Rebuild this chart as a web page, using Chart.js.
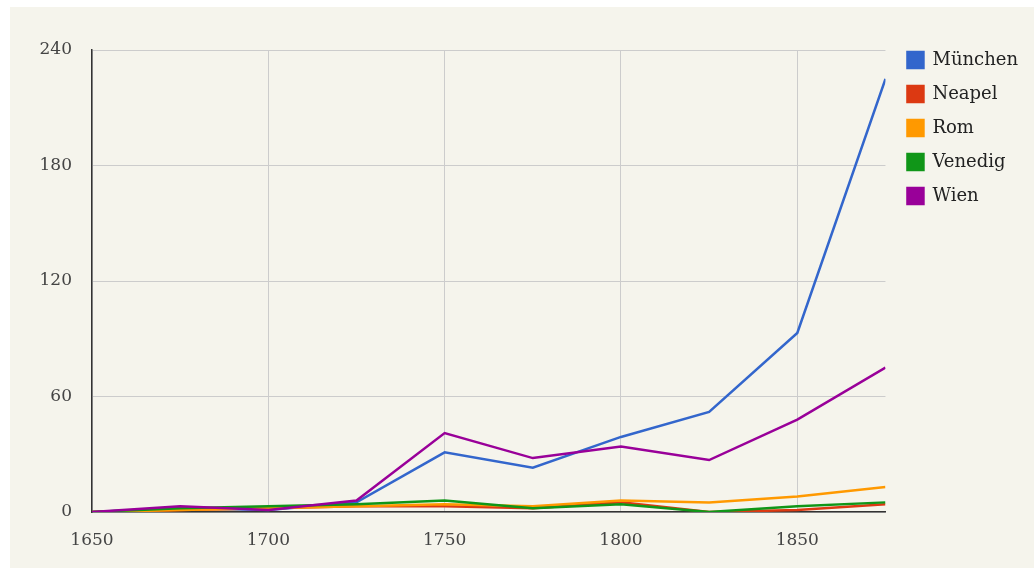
<!DOCTYPE html>
<html lang="de">
<head>
  <meta charset="UTF-8" />
  <title>Städte</title>
  <script src="https://cdn.jsdelivr.net/npm/chart.js"></script>
  <style>
    body {
      margin: 0;
      background-color: #ffffff;
    }
    .card {
      position: absolute;
      left: 10px;
      top: 7px;
      width: 1024px;
      height: 561px;
      background-color: #f5f4ec;
    }
  </style>
</head>
<body>
  <div class="card">
    <canvas id="staedteChart"></canvas>
  </div>

  <script>
    const jahre = [1650, 1675, 1700, 1725, 1750, 1775, 1800, 1825, 1850, 1875];
    const muenchen = [0, 2, 1, 5, 31, 23, 39, 52, 93, 225];
    const neapel = [0, 1, 2, 3, 3, 2, 5, 0, 1, 4];
    const rom = [0, 1, 2, 3, 4, 3, 6, 5, 8, 13];
    const venedig = [0, 2, 3, 4, 6, 2, 4, 0, 3, 5];
    const wien = [0, 3, 1, 6, 41, 28, 34, 27, 48, 75];
    const xTicks = [1650, 1700, 1750, 1800, 1850];
    const yTicks = [0, 60, 120, 180, 240];

    function punkte(werte) {
      return werte.map((v, i) => ({ x: jahre[i], y: v }));
    }

    function serie(label, werte, farbe, order) {
      return {
        label,
        data: punkte(werte),
        borderColor: farbe,
        backgroundColor: farbe,
        borderWidth: 2.5,
        pointRadius: 0,
        tension: 0,
        order
      };
    }

    const schrift = "'DejaVu Serif', Georgia, serif";

    // Legende ein Stueck vom Diagramm abruecken
    const legendeVersatz = {
      id: 'legendeVersatz',
      afterLayout(chart) {
        chart.legend.left += 6;
        chart.legend.right += 6;
      }
    };

    new Chart(document.getElementById("staedteChart"), {
      type: 'line',
      data: {
        datasets: [
          serie('München', muenchen, '#3366cc', 5),
          serie('Neapel', neapel, '#dc3912', 4),
          serie('Rom', rom, '#ff9900', 3),
          serie('Venedig', venedig, '#109618', 2),
          serie('Wien', wien, '#990099', 1)
        ]
      },
      options: {
        responsive: true,
        maintainAspectRatio: false,
        animation: false,
        layout: {
          padding: { left: 0, top: 28, right: 12, bottom: 0 }
        },
        scales: {
          x: {
            type: 'linear',
            min: 1650,
            max: 1875,
            afterBuildTicks: scale => { scale.ticks = xTicks.map(v => ({ value: v })); },
            afterFit: scale => { scale.height = 56; },
            grid: { color: '#cccccc', drawTicks: false },
            border: { color: '#333333', width: 1.5 },
            ticks: {
              padding: 18,
              color: '#444444',
              font: { family: schrift, size: 17 },
              callback: v => String(v)
            }
          },
          y: {
            min: 0,
            max: 240,
            afterBuildTicks: scale => { scale.ticks = yTicks.map(v => ({ value: v })); },
            afterFit: scale => { scale.width = 82; scale.paddingTop = 43; },
            grid: { color: '#cccccc', drawTicks: false },
            border: { color: '#333333', width: 1.5 },
            ticks: {
              padding: 20,
              color: '#444444',
              font: { family: schrift, size: 17 }
            }
          }
        },
        plugins: {
          legend: {
            position: 'right',
            align: 'start',
            labels: {
              boxWidth: 16,
              boxHeight: 16,
              padding: 16,
              color: '#222222',
              font: { family: schrift, size: 18 },
              sort: (a, b) => a.datasetIndex - b.datasetIndex
            }
          },
          tooltip: { enabled: false }
        }
      },
      plugins: [legendeVersatz]
    });
  </script>
</body>
</html>
